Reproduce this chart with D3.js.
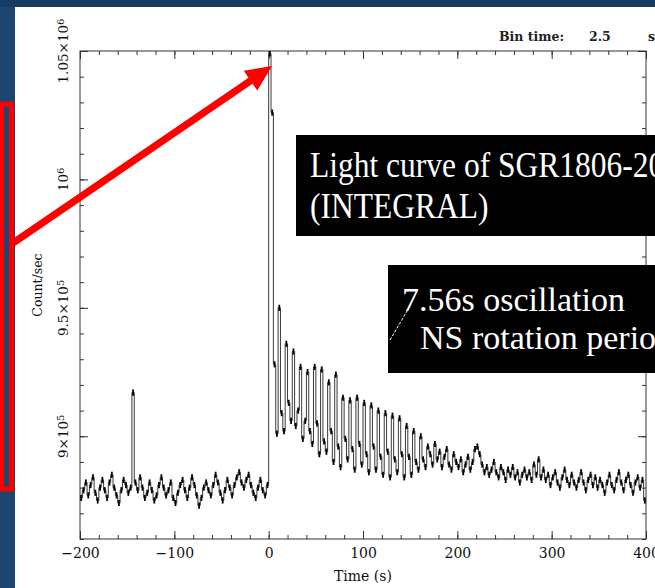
<!DOCTYPE html>
<html>
<head>
<meta charset="utf-8">
<script src="https://cdn.jsdelivr.net/npm/d3@7"></script>
<style>
  body { margin: 0; background: #1c456f; overflow: hidden; }
  svg { display: block; }
</style>
</head>
<body>
<div id="chart"></div>
<script>
// light curve of SGR1806-20 (INTEGRAL), counts/sec in thousands, 2.5 s bins
var binTime = 2.5;
var preStart = -200;
var preBurst = [
  876, 879, 882, 877, 881, 884, 878, 875, 880, 883,
  879, 876, 882, 885, 880, 877, 874, 879, 883, 881,
  878, 880, 917, 882, 879, 884, 880, 876, 878, 882,
  879, 875, 877, 881, 884, 880, 877, 879, 882, 876,
  874, 878, 881, 883, 879, 876, 880, 884, 881, 877,
  873, 876, 880, 882, 879, 877, 881, 885, 882, 878,
  875, 879, 883, 880, 877, 881, 884, 886, 882, 880,
  883, 885, 881, 878, 876, 880, 883, 879, 877, 881
];
var burstStart = 0;
var burst = [
  1049, 1026, 928, 901, 950, 909, 902, 936, 913, 906,
  933, 904, 910, 927, 899, 906, 925, 902, 897, 927,
  905, 893, 926, 898, 894, 921, 902, 890, 924, 896,
  888, 915, 899, 891, 914, 895, 887, 915, 897, 889,
  913, 893, 886, 912, 896, 887, 910, 892, 885, 909,
  894, 884, 908, 891, 886, 907, 893, 884, 904, 892,
  885, 902, 890, 887, 900, 891, 888, 896, 893, 889,
  897, 891, 894, 888, 892, 895, 889, 887, 893, 890,
  888, 891, 886, 889, 892, 887, 890, 895, 896, 893,
  889, 886, 888, 885, 887, 890, 886, 884, 888, 886,
  883, 887, 885, 888, 884, 886, 882, 885, 887, 884,
  886, 883, 889, 885, 891, 884, 887, 883, 885, 881,
  884, 886, 882, 880, 884, 887, 883, 881, 885, 882,
  880, 883, 886, 882, 879, 883, 885, 881, 884, 880,
  883, 881, 878, 882, 885, 881, 879, 883, 886, 882,
  879, 883, 885, 881, 878, 882, 884, 880, 883, 875
];
var errK = 1.2;

var xTicks = [-200, -100, 0, 100, 200, 300, 400];
var yTicks = [900, 950, 1000, 1050];
var yTickBase = ["9\u00d710", "9.5\u00d710", "10", "1.05\u00d710"];
var yTickExp = ["5", "5", "6", "6"];

var W = 655, H = 588;
var margin = {top: 51, right: 9, bottom: 49, left: 80},
    width = W - margin.left - margin.right,
    height = H - margin.top - margin.bottom;

var svg = d3.select("#chart")
  .append("svg")
    .attr("width", W)
    .attr("height", H);

// slide background
svg.append("rect")
  .attr("width", W).attr("height", H)
  .attr("fill", "#1c456f");
svg.append("rect")
  .attr("width", W).attr("height", 7)
  .attr("fill", "#173b61");
svg.append("rect")
  .attr("x", 15).attr("y", 7)
  .attr("width", W - 15).attr("height", H - 7)
  .attr("fill", "#ffffff");

var g = svg.append("g")
  .attr("transform", "translate(" + margin.left + "," + margin.top + ")");

var x = d3.scaleLinear().domain([-200, 400]).range([0, width]);
var y = d3.scaleLinear().domain([860, 1050]).range([height, 0]);

var data = preBurst.map(function(v, i) { return {t: preStart + i * binTime, v: v}; })
  .concat(burst.map(function(v, i) { return {t: burstStart + i * binTime, v: v}; }));
var stepData = data.concat([{t: data[data.length - 1].t + binTime, v: data[data.length - 1].v}]);

var fontAxis = "DejaVu Serif";

function styleAxis(sel) {
  sel.select(".domain").remove();
  sel.selectAll("line").attr("stroke", "#333");
  sel.selectAll("text")
    .attr("font-family", fontAxis)
    .attr("font-size", 14)
    .attr("fill", "#111");
}

// bottom axis, ticks inside
g.append("g")
  .attr("transform", "translate(0," + height + ")")
  .call(d3.axisBottom(x).tickValues(xTicks).tickSizeInner(-8).tickSizeOuter(0)
    .tickPadding(9).tickFormat(d3.format("d")))
  .call(styleAxis);
g.append("g")
  .attr("transform", "translate(0," + height + ")")
  .call(d3.axisBottom(x).tickValues(d3.range(-200, 401, 20)).tickSize(-4).tickFormat(""))
  .call(styleAxis);
// top axis
g.append("g")
  .call(d3.axisTop(x).tickValues(xTicks).tickSize(-8).tickFormat(""))
  .call(styleAxis);
g.append("g")
  .call(d3.axisTop(x).tickValues(d3.range(-200, 401, 20)).tickSize(-4).tickFormat(""))
  .call(styleAxis);
// left axis
var yAxisG = g.append("g")
  .call(d3.axisLeft(y).tickValues(yTicks).tickSize(-8).tickFormat(""))
  .call(styleAxis);
g.append("g")
  .call(d3.axisLeft(y).tickValues(d3.range(860, 1051, 10)).tickSize(-4).tickFormat(""))
  .call(styleAxis);
// right axis
g.append("g")
  .attr("transform", "translate(" + width + ",0)")
  .call(d3.axisRight(y).tickValues(yTicks).tickSize(-8).tickFormat(""))
  .call(styleAxis);
g.append("g")
  .attr("transform", "translate(" + width + ",0)")
  .call(d3.axisRight(y).tickValues(d3.range(860, 1051, 10)).tickSize(-4).tickFormat(""))
  .call(styleAxis);

// rotated y tick labels with exponents
yTicks.forEach(function(d, i) {
  var t = yAxisG.append("text")
    .attr("transform", "translate(-12," + y(d) + ") rotate(-90)")
    .attr("text-anchor", "middle")
    .attr("font-family", fontAxis)
    .attr("font-size", 13.5)
    .attr("fill", "#111")
    .text(yTickBase[i]);
  t.append("tspan")
    .attr("dy", "-0.45em")
    .attr("font-size", 10)
    .text(yTickExp[i]);
});

// frame
g.append("rect")
  .attr("width", width).attr("height", height)
  .attr("fill", "none")
  .attr("stroke", "#333")
  .attr("stroke-width", 1);

// light curve
g.append("clipPath").attr("id", "clip")
  .append("rect").attr("width", width).attr("height", height);

g.append("path")
  .datum(stepData)
  .attr("clip-path", "url(#clip)")
  .attr("fill", "none")
  .attr("stroke", "#3a3a3a")
  .attr("stroke-width", 1)
  .attr("d", d3.line()
    .x(function(d) { return x(d.t); })
    .y(function(d) { return y(d.v); })
    .curve(d3.curveStepAfter));

g.selectAll(".err")
  .data(data)
  .join("line")
  .attr("clip-path", "url(#clip)")
  .attr("x1", function(d) { return x(d.t + binTime / 2); })
  .attr("x2", function(d) { return x(d.t + binTime / 2); })
  .attr("y1", function(d) { return y(d.v - errK); })
  .attr("y2", function(d) { return y(d.v + errK); })
  .attr("stroke", "#000")
  .attr("stroke-width", 1.8);

// axis titles
svg.append("text")
  .attr("x", margin.left + width / 2).attr("y", 581)
  .attr("text-anchor", "middle")
  .attr("font-family", fontAxis).attr("font-size", 14)
  .attr("fill", "#111")
  .text("Time (s)");
svg.append("text")
  .attr("transform", "translate(42,285) rotate(-90)")
  .attr("text-anchor", "middle")
  .attr("font-family", fontAxis).attr("font-size", 12.5)
  .attr("fill", "#111")
  .text("Count/sec");

// bin time note
var note = svg.append("g")
  .attr("font-family", fontAxis).attr("font-size", 12.5)
  .attr("font-weight", "bold").attr("fill", "#222");
note.append("text").attr("x", 499).attr("y", 41).text("Bin time:");
note.append("text").attr("x", 589).attr("y", 41).text(binTime);
note.append("text").attr("x", 648).attr("y", 41).text("s");

// annotation boxes
svg.append("rect")
  .attr("x", 296).attr("y", 135).attr("width", 400).attr("height", 101)
  .attr("fill", "#000");
svg.append("text")
  .attr("transform", "translate(310,177) scale(1,1.12)")
  .attr("font-family", "Liberation Serif").attr("font-size", 31.5)
  .attr("fill", "#fff")
  .text("Light curve of SGR1806-20");
svg.append("text")
  .attr("transform", "translate(310,218) scale(1,1.12)")
  .attr("font-family", "Liberation Serif").attr("font-size", 31.5)
  .attr("fill", "#fff")
  .text("(INTEGRAL)");

svg.append("rect")
  .attr("x", 388).attr("y", 265).attr("width", 300).attr("height", 108)
  .attr("fill", "#000");
svg.append("text")
  .attr("x", 402).attr("y", 311)
  .attr("font-family", "Liberation Serif").attr("font-size", 34)
  .attr("fill", "#fff")
  .text("7.56s oscillation");
svg.append("text")
  .attr("x", 420).attr("y", 349)
  .attr("font-family", "Liberation Serif").attr("font-size", 34)
  .attr("fill", "#fff")
  .text("NS rotation period");
svg.append("line")
  .attr("x1", 390).attr("y1", 340).attr("x2", 410).attr("y2", 306)
  .attr("stroke", "#fff").attr("stroke-width", 1)
  .attr("stroke-dasharray", "3 1.5");

// red box and arrow
svg.append("rect")
  .attr("x", 1.5).attr("y", 104).attr("width", 10).attr("height", 385)
  .attr("fill", "none")
  .attr("stroke", "#ff0000")
  .attr("stroke-width", 5);

var a0 = [13, 243], a1 = [272, 66];
var dx = a1[0] - a0[0], dy = a1[1] - a0[1];
var len = Math.sqrt(dx * dx + dy * dy);
var ux = dx / len, uy = dy / len, px = -uy, py = ux;
var shaftW = 3.6, headL = 26, headW = 12;
var bx = a1[0] - ux * headL, by = a1[1] - uy * headL;
var arrowPts = [
  [a0[0] + px * shaftW, a0[1] + py * shaftW],
  [bx + px * shaftW, by + py * shaftW],
  [bx + px * headW, by + py * headW],
  a1,
  [bx - px * headW, by - py * headW],
  [bx - px * shaftW, by - py * shaftW],
  [a0[0] - px * shaftW, a0[1] - py * shaftW]
];
svg.append("polygon")
  .attr("points", arrowPts.map(function(p) { return p.join(","); }).join(" "))
  .attr("fill", "#ff0000");
</script>
</body>
</html>
